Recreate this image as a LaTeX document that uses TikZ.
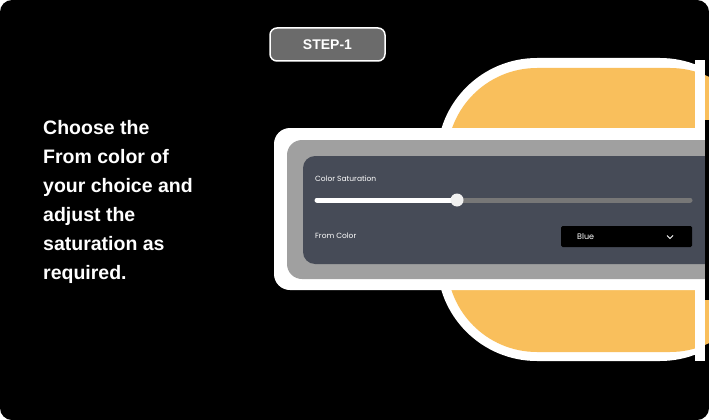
\documentclass[tikz,border=0pt]{standalone}
\usepackage{fontspec}
\setmainfont{Liberation Sans}
\newfontfamily\uifont{Poppins}
\definecolor{panelgray}{HTML}{464B57}
\definecolor{framegray}{HTML}{A0A0A0}
\definecolor{sunyellow}{HTML}{F9BF5C}
\definecolor{badgegray}{HTML}{6B6B6B}
\definecolor{trackgray}{HTML}{777777}
\tikzset{uilabel/.style={text=white, font=\uifont\fontsize{7.5}{9}\selectfont, anchor=west, inner sep=0}}
\begin{document}
\begin{tikzpicture}[x=1pt, y=-1pt]
    \useasboundingbox (0,0) rectangle (709,420);
    \fill[white] (0,0) rectangle (709,420);
    \fill[black, rounded corners=12] (0,0) rectangle (709,420);
    % yellow shape
    \fill[white, rounded corners=100] (437,58) rectangle (760,361);
    \fill[black] (705,50) rectangle (709,370);
    \fill[sunyellow, rounded corners=90] (447,68) rectangle (760,352);
    \fill[white] (695,60) rectangle (705,361);
    % panel frames
    \fill[white, rounded corners=16] (274,128) rectangle (730,290);
    \fill[framegray, rounded corners=15] (287,140) rectangle (730,279);
    \fill[panelgray, rounded corners=12] (303,156) rectangle (730,264);
    \fill[black] (705,120) rectangle (740,300);
    \path
    (315,179) node[uilabel] (sat) {Color Saturation}
    (315,236) node[uilabel] (from) {From Color};
    \draw[trackgray, line width=5, line cap=round] (456,200) -- (690,200);
    \draw[white, line width=5, line cap=round] (317,200) -- (456,200);
    \fill[white!88!gray] (457,200) circle (6.5);
    \fill[black, rounded corners=1.5] (561,226) rectangle (692,247);
    \node[uilabel, font=\uifont\fontsize{8}{9}\selectfont] (blue) at (577,237) {Blue};
    \draw[white, line width=0.8] (667,235.5) -- (670,238.5) -- (673,235.5);
    % badge
    \node[draw=white, line width=1.5, fill=badgegray, rounded corners=7, minimum width=115, minimum height=33,
        text=white, font=\bfseries\fontsize{14}{16}\selectfont] (badge) at (327.5,44.5) {STEP-1};
    % caption
    \node[anchor=north west, align=left, text=white, inner sep=0,
        font=\bfseries\fontsize{19.5}{29}\selectfont] (caption) at (43,120)
        {Choose the\\From color of\\your choice and\\adjust the\\saturation as\\required.};
\end{tikzpicture}
\end{document}
